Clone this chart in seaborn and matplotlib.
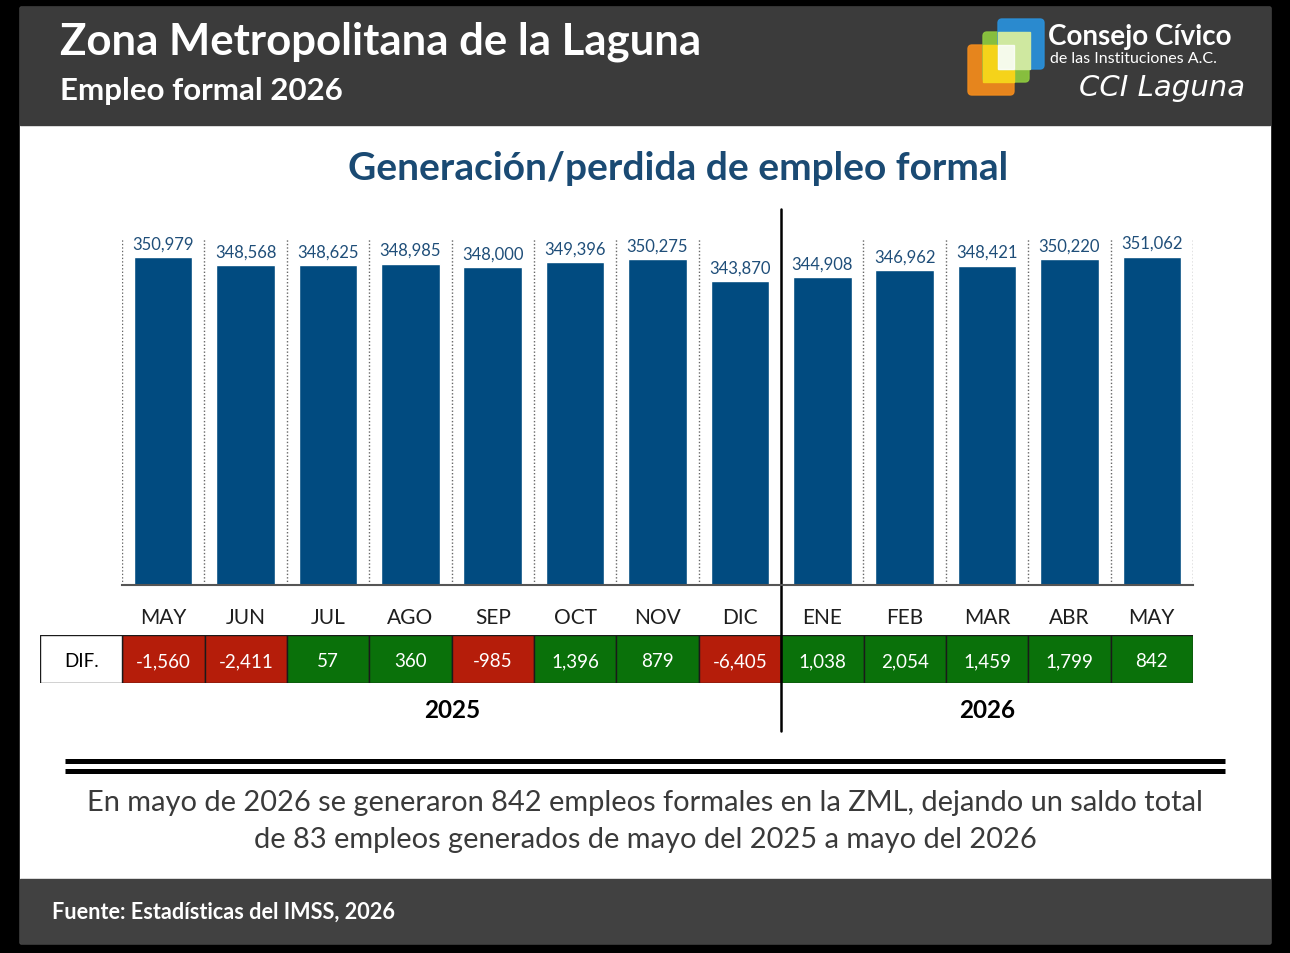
import matplotlib
matplotlib.use("Agg")
import matplotlib.pyplot as plt
import seaborn as sns
import pandas as pd
from matplotlib.patches import Rectangle, FancyBboxPatch

# Datos
months = ["MAY", "JUN", "JUL", "AGO", "SEP", "OCT", "NOV", "DIC", "ENE", "FEB", "MAR", "ABR", "MAY"]
years = ["2025"] * 8 + ["2026"] * 5
empleo = [350979, 348568, 348625, 348985, 348000, 349396, 350275, 343870,
          344908, 346962, 348421, 350220, 351062]
dif = [-1560, -2411, 57, 360, -985, 1396, 879, -6405, 1038, 2054, 1459, 1799, 842]

df = pd.DataFrame({"mes": months, "anio": years, "empleo": empleo, "dif": dif})
df["key"] = df["mes"] + "-" + df["anio"]

sns.set_theme(style="white")
plt.rcParams["font.family"] = ["Lato", "DejaVu Sans"]

W, H = 1290, 954
fig = plt.figure(figsize=(W / 100, H / 100), dpi=100, facecolor="black")


def px(x0, y0, x1, y1):
    return [x0 / W, 1 - y1 / H, (x1 - x0) / W, (y1 - y0) / H]


# fondo en pixeles
bg = fig.add_axes([0, 0, 1, 1], zorder=0)
bg.set_xlim(0, W)
bg.set_ylim(H, 0)
bg.axis("off")
bg.add_patch(Rectangle((20, 8), 1250, 936, color="white"))
bg.add_patch(Rectangle((20, 8), 1250, 118, color="#3b3b3b"))
bg.add_patch(Rectangle((20, 880), 1250, 64, color="#414141"))

bg.text(60, 42, "Zona Metropolitana de la Laguna", color="white", fontsize=31.5,
        fontweight="bold", va="center", ha="left")
bg.text(60, 91, "Empleo formal 2026", color="white", fontsize=22.5,
        fontweight="bold", va="center", ha="left")

# logo
for (x, y, c) in [(968, 46, "#f08a1c"), (983, 33, "#8cc63f"), (998, 20, "#2a8fd8")]:
    bg.add_patch(FancyBboxPatch((x, y), 46, 50, boxstyle="round,pad=0,rounding_size=4",
                                color=c, alpha=0.95))
bg.add_patch(Rectangle((983, 46), 31, 37, color="#f5d31a"))
bg.add_patch(Rectangle((998, 33), 32, 37, color="#cfe8a0"))
bg.add_patch(Rectangle((998, 46), 16, 24, color="#ffffff", alpha=0.8))
bg.text(1048, 37, "Consejo Cívico", color="white", fontsize=20, fontweight="bold",
        va="center", ha="left")
bg.text(1050, 59, "de las Instituciones A.C.", color="white", fontsize=11.5,
        va="center", ha="left")
bg.text(1245, 88, "CCI Laguna", color="white", fontsize=21, style="italic",
        va="center", ha="right", family="DejaVu Sans")

bg.text(678, 168, "Generación/perdida de empleo formal", color="#1a4a73", fontsize=28,
        fontweight="bold", ha="center", va="center")

# doble linea
bg.plot([65, 1225], [762, 762], color="black", lw=3.6, solid_capstyle="butt")
bg.plot([65, 1225], [771.5, 771.5], color="black", lw=3.6, solid_capstyle="butt")

bg.text(645, 803, "En mayo de 2026 se generaron 842 empleos formales en la ZML, dejando un saldo total",
        color="#3a3a3a", fontsize=20.9, ha="center", va="center")
bg.text(645, 840, "de 83 empleos generados de mayo del 2025 a mayo del 2026",
        color="#3a3a3a", fontsize=20.9, ha="center", va="center")
bg.text(52, 912, "Fuente: Estadísticas del IMSS, 2026", color="white", fontsize=15.6,
        fontweight="bold", ha="left", va="center")

# barras
ax = fig.add_axes(px(122, 210, 1193, 586), zorder=2)
ax.patch.set_alpha(0)
sns.barplot(data=df, x="key", y="empleo", color="#014b80", width=0.71,
            saturation=1, ax=ax)
ax.set_ylim(253000, 365300)
ax.set_xlim(-0.5, 12.5)
ax.set_xlabel("")
ax.set_ylabel("")
ax.set_yticks([])
ax.set_xticks(range(len(months)))
ax.set_xticklabels(months, fontsize=15, color="#1e1e1e")
ax.tick_params(axis="x", length=0, pad=16)
for s in ["top", "right", "left"]:
    ax.spines[s].set_visible(False)
ax.spines["bottom"].set_color("#555555")
ax.spines["bottom"].set_linewidth(1.5)
ax.bar_label(ax.containers[0], labels=[f"{v:,}" for v in empleo], padding=4,
             fontsize=12, color="#1f4e79")

seps = [k - 0.5 for k in range(len(months) + 1) if k != 8]
ax.vlines(seps, 0, 0.92, transform=ax.get_xaxis_transform(), colors="#666666",
          linestyles=(0, (1, 1.5)), linewidth=1)
ax.axvline(7.5, ymin=-0.388, ymax=1.0, color="black", lw=1.8, clip_on=False)

# tabla de diferencias
at = fig.add_axes(px(40, 636, 1193, 684), zorder=1)
at.set_xlim(-1.5, 12.5)
at.set_ylim(0, 1)
at.axis("off")
colores = ["#b51d0a" if v < 0 else "#0a710a" for v in dif]
at.bar(range(len(dif)), 1, width=1, color=colores, edgecolor="#1a1a1a", linewidth=1)
at.bar([-1], 1, width=1, color="white", edgecolor="#1a1a1a", linewidth=1)
at.text(-1, 0.46, "DIF.", color="black", fontsize=13.5, ha="center", va="center")
for i, v in enumerate(dif):
    at.text(i, 0.46, f"{v:,}", color="white", fontsize=13.5, ha="center", va="center")

for yr in ["2025", "2026"]:
    idx = [i for i, y in enumerate(years) if y == yr]
    at.text(sum(idx) / len(idx), -0.56, yr, color="black", fontsize=17.5,
            fontweight="bold", ha="center", va="center",
            transform=at.get_xaxis_transform())

fig.savefig("out.png", dpi=100, facecolor="black")
